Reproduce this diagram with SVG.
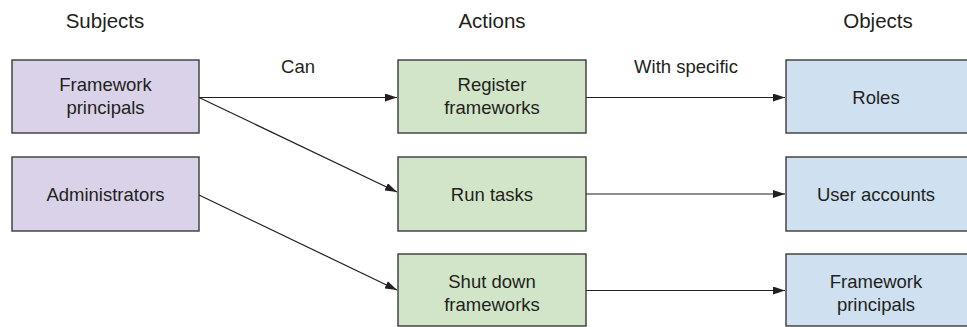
<svg xmlns="http://www.w3.org/2000/svg" width="967" height="327" viewBox="0 0 967 327">
<style>
text{font-family:"Liberation Sans",Arial,sans-serif;font-size:18.5px;fill:#231f20;text-anchor:middle}
.h{font-size:20.5px}
.box{stroke:#3a3a3a;stroke-width:1.4}
.s{fill:#d9d2e8}.a{fill:#d2e5c8}.o{fill:#cfe0f0}
.c{stroke:#231f20;stroke-width:1.2;fill:none;marker-end:url(#ah)}
</style>
<defs>
<marker id="ah" viewBox="0 0 12 8" refX="12" refY="4" markerWidth="12" markerHeight="8" markerUnits="userSpaceOnUse" orient="auto">
<path d="M0,0 L12,4 L0,8 z" fill="#231f20"/>
</marker>
</defs>
<g id="headers">
<text class="h" x="105" y="28">Subjects</text>
<text class="h" x="492" y="28">Actions</text>
<text class="h" x="878" y="28">Objects</text>
</g>
<g id="connectors">
<line class="c" x1="199" y1="97.5" x2="397" y2="97.5"/>
<line class="c" x1="199" y1="97.5" x2="397" y2="192"/>
<line class="c" x1="199" y1="195" x2="397" y2="290"/>
<line class="c" x1="586" y1="97.5" x2="785" y2="97.5"/>
<line class="c" x1="586" y1="194" x2="785" y2="194"/>
<line class="c" x1="586" y1="290.5" x2="785" y2="290.5"/>
<text x="298" y="73">Can</text>
<text x="686" y="73">With specific</text>
</g>
<g id="framework-principals-subject">
<rect class="box s" x="12" y="60" width="187" height="73"/>
<text x="105.5" y="91">Framework</text>
<text x="105.5" y="114">principals</text>
</g>
<g id="administrators">
<rect class="box s" x="12" y="157" width="187" height="74"/>
<text x="105.5" y="201">Administrators</text>
</g>
<g id="register-frameworks">
<rect class="box a" x="398" y="60" width="188" height="73"/>
<text x="492" y="91">Register</text>
<text x="492" y="114">frameworks</text>
</g>
<g id="run-tasks">
<rect class="box a" x="398" y="157" width="188" height="74"/>
<text x="492" y="201">Run tasks</text>
</g>
<g id="shut-down-frameworks">
<rect class="box a" x="398" y="254" width="188" height="72"/>
<text x="492" y="288">Shut down</text>
<text x="492" y="311">frameworks</text>
</g>
<g id="roles">
<rect class="box o" x="786" y="60" width="190" height="73"/>
<text x="876" y="104">Roles</text>
</g>
<g id="user-accounts">
<rect class="box o" x="786" y="157" width="190" height="74"/>
<text x="876" y="201">User accounts</text>
</g>
<g id="framework-principals-object">
<rect class="box o" x="786" y="254" width="190" height="72"/>
<text x="876" y="288">Framework</text>
<text x="876" y="311">principals</text>
</g>
</svg>
